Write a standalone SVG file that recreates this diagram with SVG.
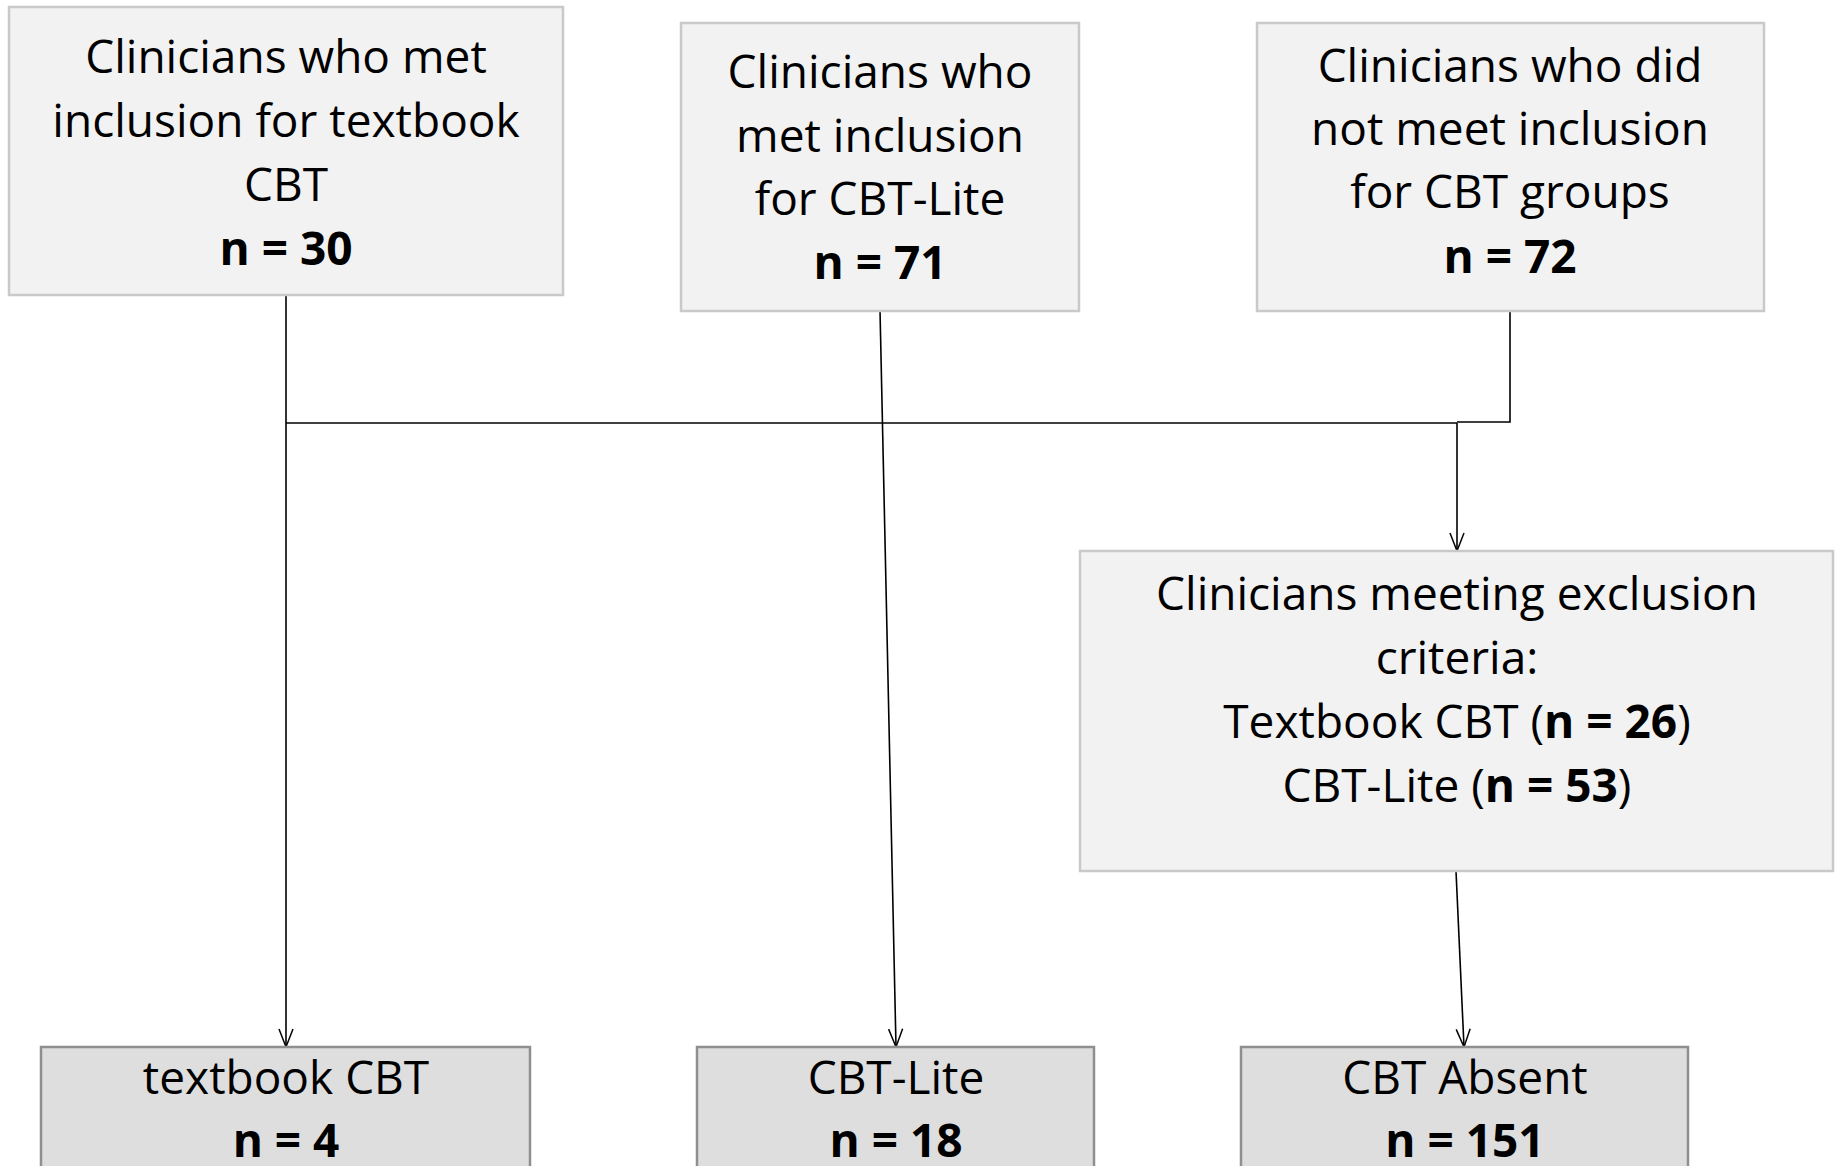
<svg xmlns="http://www.w3.org/2000/svg" width="1837" height="1166" viewBox="0 0 1837 1166">
<defs>
<style>
.top{fill:#f2f2f2;stroke:#c9c9c9;stroke-width:2.5}
.bot{fill:#dedede;stroke:#8f8f8f;stroke-width:2.5}
text{font-family:"Open Sans","Noto Sans","Liberation Sans",sans-serif;font-size:46px;fill:#000;text-anchor:middle}
.b{font-weight:bold}
.ln{fill:none;stroke:#000;stroke-width:1.6}
</style>
<marker id="ah" markerUnits="userSpaceOnUse" markerWidth="20" markerHeight="16" refX="18" refY="7" orient="auto" overflow="visible">
<path d="M0,0 L18,7 L0,14" fill="none" stroke="#000" stroke-width="1.5"/>
</marker>
</defs>
<rect width="1837" height="1166" fill="#fff"/>
<g id="connectors">
<path class="ln" d="M286,295 V1047" marker-end="url(#ah)"/>
<path class="ln" d="M286,423 H1457" stroke-width="2.4"/>
<path class="ln" d="M1510,310 V422 H1457"/>
<path class="ln" d="M1457,423 V551" marker-end="url(#ah)"/>
<path class="ln" d="M880,310 L896,1047" marker-end="url(#ah)"/>
<path class="ln" d="M1456,871 L1464,1047" marker-end="url(#ah)"/>
</g>
<g id="n1">
<rect class="top" x="9" y="7" width="554" height="288"/>
<text x="286" y="73">Clinicians who met</text>
<text x="286" y="137">inclusion for textbook</text>
<text x="286" y="201">CBT</text>
<text x="286" y="265" class="b">n = 30</text>
</g>
<g id="n2">
<rect class="top" x="681" y="23" width="398" height="288"/>
<text x="880" y="88">Clinicians who</text>
<text x="880" y="152">met inclusion</text>
<text x="880" y="215">for CBT-Lite</text>
<text x="880" y="279" class="b">n = 71</text>
</g>
<g id="n3">
<rect class="top" x="1257" y="23" width="507" height="288"/>
<text x="1510" y="82">Clinicians who did</text>
<text x="1510" y="145">not meet inclusion</text>
<text x="1510" y="208">for CBT groups</text>
<text x="1510" y="273" class="b">n = 72</text>
</g>
<g id="n4">
<rect class="top" x="1080" y="551" width="753" height="320"/>
<text x="1457" y="610">Clinicians meeting exclusion</text>
<text x="1457" y="674">criteria:</text>
<text x="1457" y="738">Textbook CBT (<tspan class="b">n = 26</tspan>)</text>
<text x="1457" y="802">CBT-Lite (<tspan class="b">n = 53</tspan>)</text>
</g>
<g id="n5">
<rect class="bot" x="41" y="1047" width="489" height="140"/>
<text x="286" y="1094">textbook CBT</text>
<text x="286" y="1157" class="b">n = 4</text>
</g>
<g id="n6">
<rect class="bot" x="697" y="1047" width="397" height="140"/>
<text x="896" y="1094">CBT-Lite</text>
<text x="896" y="1157" class="b">n = 18</text>
</g>
<g id="n7">
<rect class="bot" x="1241" y="1047" width="447" height="140"/>
<text x="1465" y="1094">CBT Absent</text>
<text x="1465" y="1157" class="b">n = 151</text>
</g>
</svg>
